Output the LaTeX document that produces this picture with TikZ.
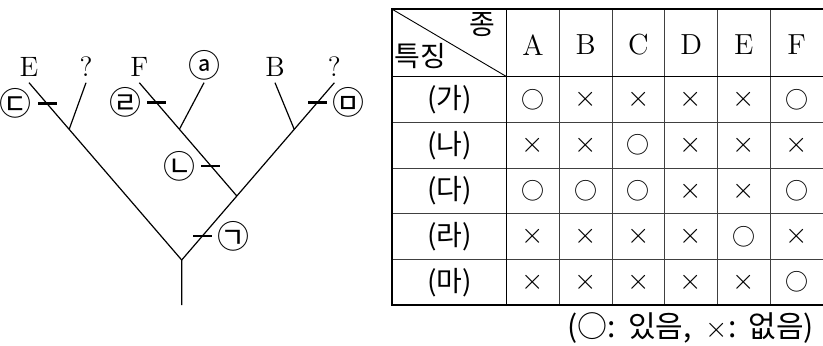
\documentclass[tikz,border=0pt]{standalone}
\usepackage{fontspec}
\newfontfamily\kr{Noto Sans CJK KR}
\usetikzlibrary{positioning,calc}
\newcommand\symo{{\kr\fontsize{11.5}{12}\selectfont ○}}
\newcommand\symx{{\fontsize{15}{15}\selectfont$\times$}}

\begin{document}
\begin{tikzpicture}[x=0.5pt,y=-0.5pt,
  branch/.style={line width=0.6pt},
  tickbar/.style={fill=black, inner sep=0pt, minimum width=9.5pt, minimum height=1.4pt},
  circmark/.style={inner sep=0pt, font=\kr\fontsize{16}{16}\selectfont},
  leaflab/.style={inner sep=0pt, font=\fontsize{14}{14}\selectfont},
  gridline/.style={line width=0.45pt, black!75},
  frameline/.style={line width=0.9pt},
  cell/.style={font=\kr\fontsize{14}{14}\selectfont},
  symcell/.style={inner sep=0pt},
  head/.style={font=\fontsize{14.5}{15}\selectfont}]
\useasboundingbox (0,0) rectangle (823,345);

% tree
\coordinate (base) at (181.7,305);
\coordinate (root) at (181.7,260);
\coordinate (eleaf) at (29,82.7);
\coordinate (rq) at (334.4,82.7);
\coordinate (lfork) at ($(root)!0.737!(eleaf)$);
\coordinate (lq) at (86,82.7);
\coordinate (mid) at ($(root)!0.361!(rq)$);
\coordinate (fleaf) at (139.3,82.7);
\coordinate (ffork) at ($(mid)!0.589!(fleaf)$);
\coordinate (aleaf) at (204,82.7);
\coordinate (bfork) at ($(root)!0.737!(rq)$);
\coordinate (bleaf) at (275,82.7);

\draw[branch] (base) -- (root) -- (eleaf);
\draw[branch] (root) -- (rq);
\draw[branch] (lfork) -- (lq);
\draw[branch] (mid) -- (fleaf);
\draw[branch] (ffork) -- (aleaf);
\draw[branch] (bfork) -- (bleaf);

\node[leaflab, above=3pt of eleaf] (le) {E};
\node[leaflab, above=3pt of lq] (lql) {?};
\node[leaflab, above=3pt of fleaf] (lf) {F};
\node[circmark, above=0.8pt of aleaf] (la) {ⓐ};
\node[leaflab, above=3pt of bleaf] (lb) {B};
\node[leaflab, above=3pt of rq] (lrq) {?};

% ticks
\node[tickbar] (t1) at ($(root)!0.135!(rq)$) {};
\node[tickbar] (t2) at ($(mid)!0.265!(fleaf)$) {};
\node[tickbar] (t3) at ($(root)!0.882!(eleaf)$) {};
\node[tickbar] (t4) at ($(mid)!0.823!(fleaf)$) {};
\node[tickbar] (t5) at ($(root)!0.887!(rq)$) {};
\node[circmark, right=2.5pt of t1] (m1) {㉠};
\node[circmark, left=2.5pt of t2] (m2) {㉡};
\node[circmark, left=2.5pt of t3] (m3) {㉢};
\node[circmark, left=2.5pt of t4] (m4) {㉣};
\node[circmark, right=2.5pt of t5] (m5) {㉤};

% table
\foreach \y in {122.4,168.1,213.8,259.4}
  \draw[gridline] (392.3,\y) -- (824,\y);
\foreach \x in {559.4,612.1,664.8,717.5,770.2}
  \draw[gridline] (\x,9.3) -- (\x,305);
\draw[line width=0.6pt] (506.7,9.3) -- (506.7,305);
\draw[line width=0.6pt] (392.3,76.7) -- (824,76.7);
\draw[line width=0.45pt] (392.3,9.3) -- (506.7,76.7);
\draw[frameline] (824,9.3) -- (392.3,9.3) -- (392.3,305) -- (824,305);

\node[cell] (hs) at (482,25) {종};
\node[cell] (ht) at (420.5,56) {특징};
\foreach \t [count=\i] in {A,B,C,D,E,F}
  \node[head] (h\i) at ({506.7+52.7*(\i-0.5)},45) {\t};

\foreach \r/\lab/\vals in {1/가/{o,x,x,x,x,o},2/나/{x,x,o,x,x,x},3/다/{o,o,o,x,x,o},4/라/{x,x,x,x,o,x},5/마/{x,x,x,x,x,o}}{
  \node[cell] (r\r) at (449.5,{76.7+45.66*(\r-0.5)}) {(\lab)};
  \foreach \v [count=\c] in \vals
    \node[symcell] (c\r-\c) at ({506.7+52.7*(\c-0.5)},{76.7+45.66*(\r-0.5)}) {\csname sym\v\endcsname};
}

\node[cell, anchor=east, font=\kr\fontsize{15}{15}\selectfont] (note) at (821,328)
  {(○:\hspace{6pt}있음,\hspace{7pt}{\fontsize{15}{15}\selectfont$\times$}:\hspace{6pt}없음)};
\end{tikzpicture}
\end{document}
